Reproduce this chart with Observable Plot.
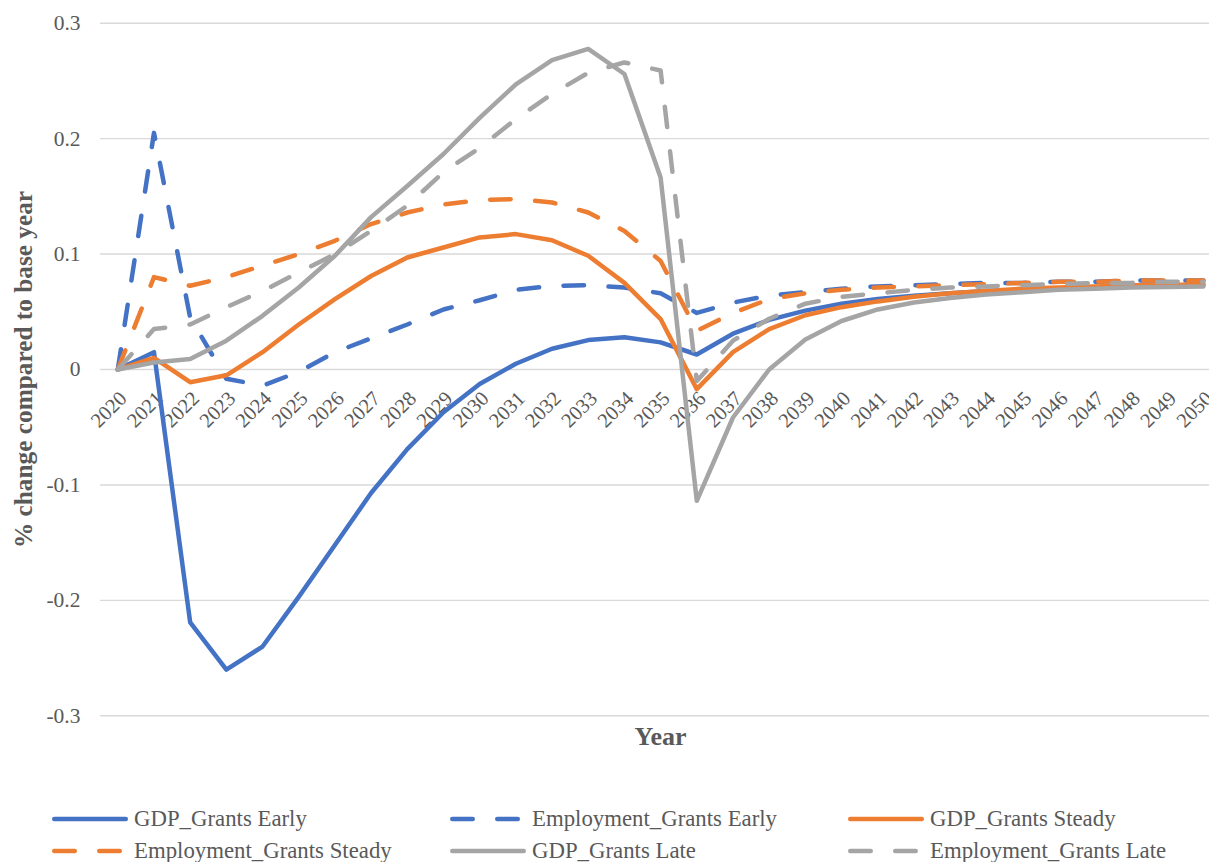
<!DOCTYPE html>
<html>
<head>
<meta charset="utf-8">
<script src="https://cdn.jsdelivr.net/npm/d3@7"></script>
<script src="https://cdn.jsdelivr.net/npm/@observablehq/plot@0.6"></script>
<style>
  html, body { margin: 0; padding: 0; background: #fff; }
  #wrap { position: relative; width: 1209px; height: 862px; overflow: hidden; font-family: "Liberation Serif", "Times New Roman", serif; }
  #chart svg { display: block; }
  .lg { position: absolute; height: 32px; display: flex; align-items: center; color: #595959; font-size: 22.8px; white-space: nowrap; }
  .lg svg { display: block; margin-right: 4px; }
</style>
</head>
<body>
<div id="wrap">
  <div id="chart"></div>
  <div id="legend"></div>
</div>
<script>
const years = [2020,2021,2022,2023,2024,2025,2026,2027,2028,2029,2030,2031,2032,2033,2034,2035,2036,2037,2038,2039,2040,2041,2042,2043,2044,2045,2046,2047,2048,2049,2050];

const gdpEarly   = [0, 0.015, -0.219, -0.260, -0.240, -0.197, -0.152, -0.107, -0.069, -0.037, -0.0125, 0.005, 0.018, 0.0255, 0.028, 0.0235, 0.013, 0.031, 0.043, 0.051, 0.057, 0.061, 0.064, 0.066, 0.068, 0.069, 0.070, 0.071, 0.072, 0.072, 0.073];
const empEarly   = [0, 0.205, 0.045, -0.008, -0.014, -0.002, 0.015, 0.027, 0.039, 0.052, 0.060, 0.069, 0.0725, 0.073, 0.071, 0.066, 0.049, 0.058, 0.064, 0.067, 0.070, 0.072, 0.073, 0.074, 0.075, 0.075, 0.076, 0.076, 0.077, 0.077, 0.077];
const gdpSteady  = [0, 0.010, -0.011, -0.005, 0.015, 0.039, 0.061, 0.081, 0.097, 0.1057, 0.1144, 0.1173, 0.112, 0.0985, 0.075, 0.0437, -0.017, 0.015, 0.035, 0.047, 0.054, 0.059, 0.063, 0.066, 0.068, 0.070, 0.071, 0.072, 0.073, 0.073, 0.074];
const empSteady  = [0, 0.080, 0.0725, 0.080, 0.090, 0.100, 0.1115, 0.126, 0.136, 0.143, 0.1468, 0.1477, 0.1447, 0.136, 0.120, 0.094, 0.0335, 0.049, 0.061, 0.066, 0.069, 0.071, 0.072, 0.073, 0.074, 0.075, 0.076, 0.076, 0.077, 0.077, 0.077];
const gdpLate    = [0, 0.006, 0.009, 0.025, 0.0465, 0.071, 0.0985, 0.132, 0.159, 0.1867, 0.218, 0.247, 0.268, 0.2777, 0.256, 0.1664, -0.1138, -0.0416, 0.0, 0.026, 0.042, 0.052, 0.058, 0.062, 0.065, 0.067, 0.069, 0.070, 0.071, 0.0715, 0.072];
const empLate    = [0, 0.035, 0.039, 0.054, 0.068, 0.084, 0.100, 0.120, 0.142, 0.171, 0.192, 0.217, 0.2387, 0.257, 0.266, 0.259, -0.010, 0.025, 0.044, 0.057, 0.063, 0.066, 0.069, 0.071, 0.072, 0.073, 0.074, 0.075, 0.075, 0.076, 0.076];

const seriesNames = ["GDP_Grants Early", "Employment_Grants Early", "GDP_Grants Steady", "Employment_Grants Steady", "GDP_Grants Late", "Employment_Grants Late"];
const seriesValues = [gdpEarly, empEarly, gdpSteady, empSteady, gdpLate, empLate];
const seriesColors = ["#4472C4", "#4472C4", "#ED7D31", "#ED7D31", "#A5A5A5", "#A5A5A5"];
const seriesDashed = [false, true, false, true, false, true];

const yTicks = [0.3, 0.2, 0.1, 0, -0.1, -0.2, -0.3];
const yTickLabels = ["0.3", "0.2", "0.1", "0", "-0.1", "-0.2", "-0.3"];

const yTitle = "% change compared to base year";
const xTitle = "Year";

const DASH = "20.5,24.5";
const LW = 4.5;
const TXT = "#595959";
const FONT = "'Liberation Serif', 'Times New Roman', serif";

const lineMarks = seriesValues.map((vals, s) => {
  const data = years.map((yr, i) => ({year: yr, value: vals[i]}));
  return Plot.line(data, {
    x: "year", y: "value",
    stroke: seriesColors[s],
    strokeWidth: LW,
    strokeDasharray: seriesDashed[s] ? DASH : null,
    strokeLinecap: "round",
    strokeLinejoin: "round"
  });
});

const chart = Plot.plot({
  width: 1209,
  height: 800,
  marginLeft: 100,
  marginRight: 0,
  marginTop: 22.7,
  marginBottom: 800 - 715.3,
  style: {background: "transparent", fontFamily: FONT, overflow: "hidden"},
  x: {type: "linear", domain: [2019.5, 2050.5], range: [99.2, 1221], axis: null},
  y: {domain: [-0.3, 0.3], axis: null},
  marks: [
    Plot.ruleY(yTicks, {stroke: "#d9d9d9", strokeWidth: 1.4}),
    Plot.text(yTicks, {
      y: d => d, text: (d, i) => yTickLabels[i], frameAnchor: "left",
      dx: -20, textAnchor: "end", lineAnchor: "middle",
      fill: TXT, fontSize: 21.5
    }),
    Plot.text(years, {
      x: d => d, y: () => 0, text: d => String(d),
      rotate: -45, textAnchor: "end", lineAnchor: "top",
      dx: 0, dy: 20, fill: TXT, fontSize: 20.5
    }),
    ...lineMarks,
    Plot.text([xTitle], {
      x: () => 2035, y: () => -0.3, text: d => d, dy: 21, lineAnchor: "middle",
      fill: TXT, fontSize: 26, fontWeight: "bold"
    }),
    Plot.text([yTitle], {
      y: () => 0, text: d => d, frameAnchor: "left", dx: -77,
      rotate: -90, textAnchor: "middle", lineAnchor: "middle",
      fill: TXT, fontSize: 25.3, fontWeight: "bold"
    })
  ]
});
document.getElementById("chart").appendChild(chart);

// Legend
const legend = document.getElementById("legend");
const colX = [52, 450, 848];
const rowY = [819, 851];
seriesNames.forEach((name, s) => {
  const col = s % 3, row = Math.floor(s / 3);
  const item = document.createElement("div");
  item.className = "lg";
  item.style.left = (colX[col]) + "px";
  item.style.top = (rowY[row] - 16) + "px";
  const x1 = 2.25;
  const x2 = seriesDashed[s] ? 67.75 : 73.75;
  item.innerHTML =
    `<svg width="78" height="10"><line x1="${x1}" x2="${x2}" y1="5" y2="5" stroke="${seriesColors[s]}" stroke-width="${LW}" stroke-linecap="round" ${seriesDashed[s] ? `stroke-dasharray="${DASH}"` : ""}/></svg><span>${name}</span>`;
  legend.appendChild(item);
});
</script>
</body>
</html>
